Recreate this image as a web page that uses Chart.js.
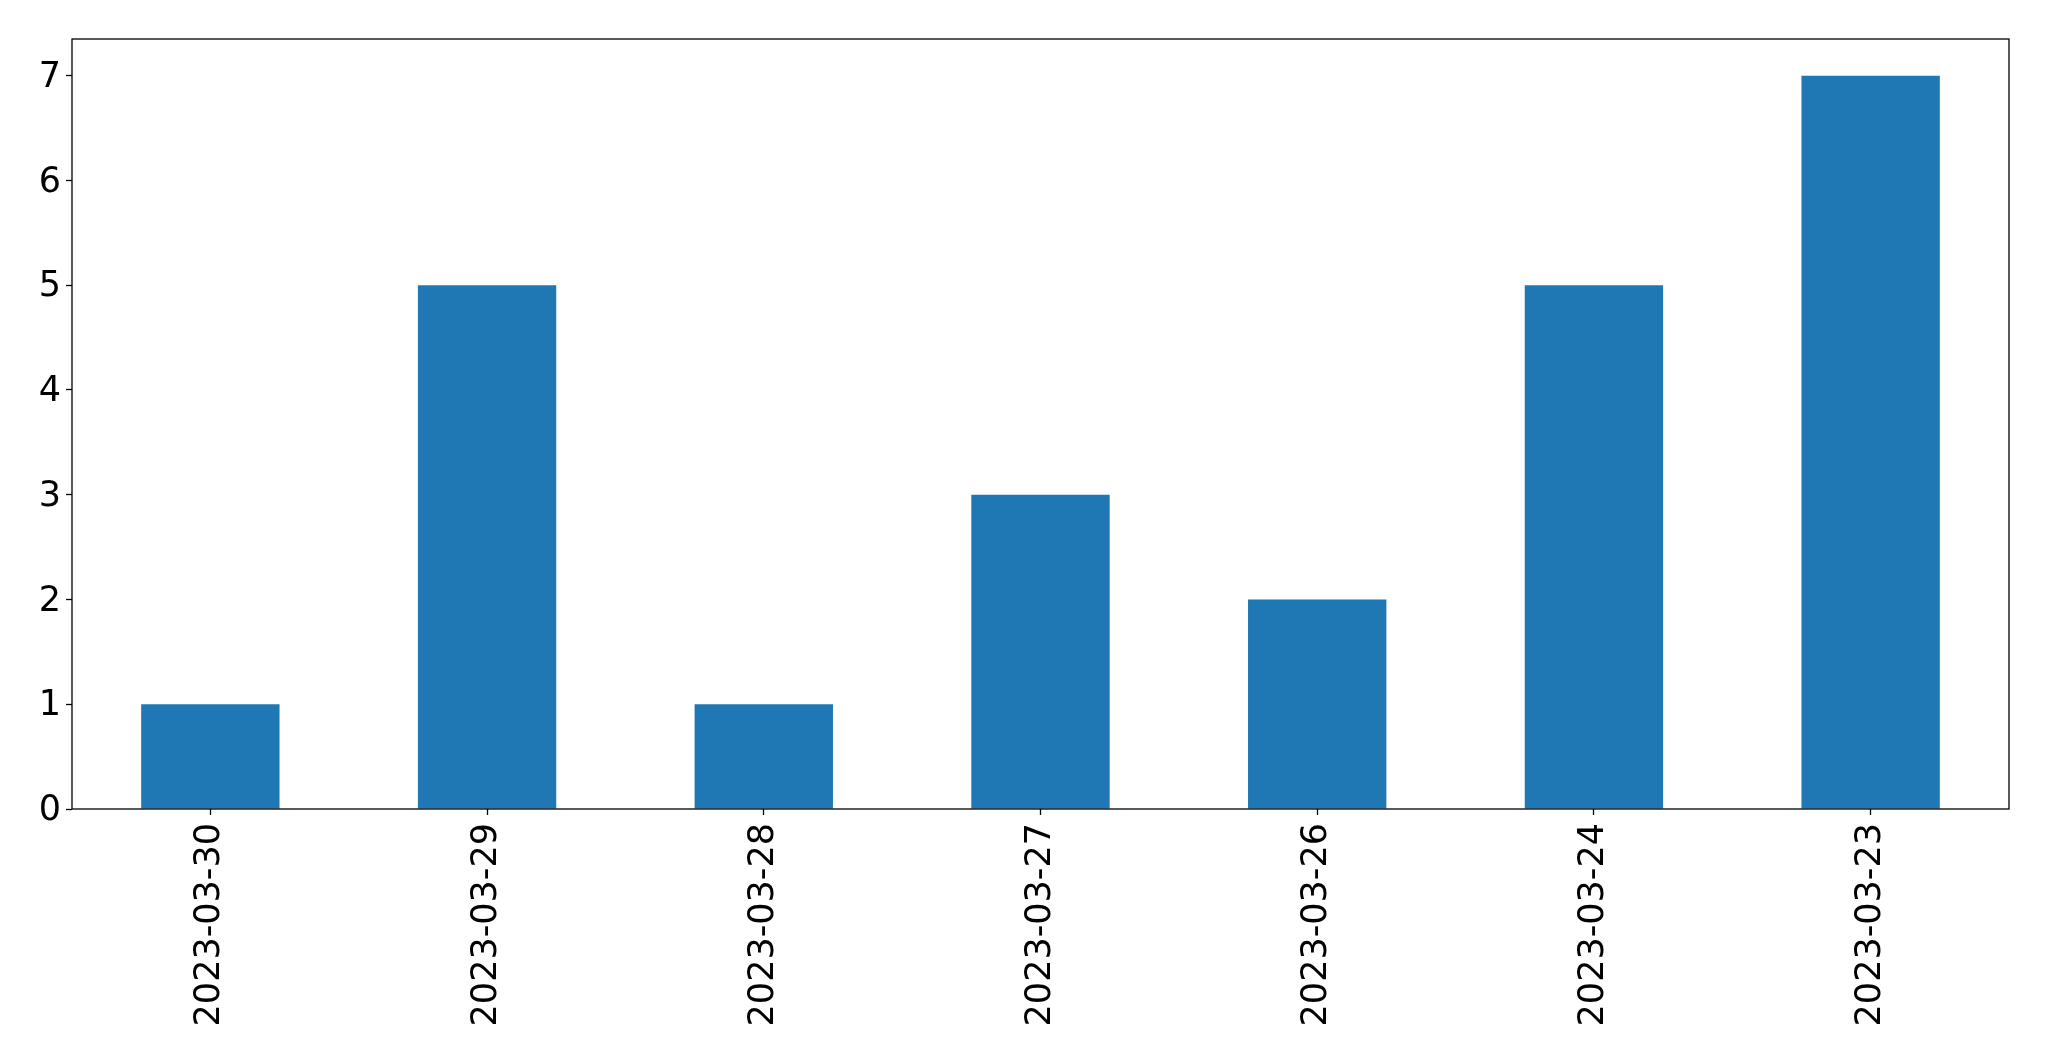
<!DOCTYPE html>
<html>
<head>
<meta charset="utf-8">
<script src="https://cdn.jsdelivr.net/npm/chart.js@4.4.0/dist/chart.umd.min.js"></script>
<style>
html,body{margin:0;padding:0;background:#fff;}
#wrap{width:2049px;height:1061px;position:relative;}
</style>
</head>
<body>
<div id="wrap"><canvas id="c" width="2049" height="1061"></canvas></div>
<script>
const categories = ["2023-03-30","2023-03-29","2023-03-28","2023-03-27","2023-03-26","2023-03-24","2023-03-23"];
const values = [1,5,1,3,2,5,7];
const yTicks = [0,1,2,3,4,5,6,7];

const frame = {
  id: 'frame',
  afterDraw(chart) {
    const a = chart.chartArea, ctx = chart.ctx;
    ctx.save();
    ctx.strokeStyle = '#000';
    ctx.lineWidth = 1.3;
    ctx.strokeRect(a.left, a.top, a.right - a.left, a.bottom - a.top);
    ctx.restore();
  }
};

new Chart(document.getElementById('c'), {
  type: 'bar',
  data: {
    labels: categories,
    datasets: [{ data: values, backgroundColor: '#1f77b4', borderWidth: 0, barPercentage: 0.5, categoryPercentage: 1.0 }]
  },
  options: {
    responsive: false,
    animation: false,
    devicePixelRatio: 1,
    layout: { padding: { top: 39, right: 40, left: 0, bottom: 0 } },
    plugins: { legend: { display: false }, tooltip: { enabled: false } },
    scales: {
      x: {
        offset: true,
        grid: { display: true, drawOnChartArea: false, drawTicks: true, tickLength: 6, tickWidth: 1.3, tickColor: '#000', offset: false },
        border: { display: false },
        ticks: { color: '#000', font: { family: 'DejaVu Sans', size: 35 }, minRotation: 90, maxRotation: 90, padding: 8, autoSkip: false },
        afterFit(s) { s.height = 252; }
      },
      y: {
        min: 0, max: 7.35,
        afterBuildTicks(s) { s.ticks = yTicks.map(v => ({ value: v })); },
        grid: { display: true, drawOnChartArea: false, drawTicks: true, tickLength: 6, tickWidth: 1.3, tickColor: '#000' },
        border: { display: false },
        ticks: { color: '#000', font: { family: 'DejaVu Sans', size: 35 }, padding: 5, labelOffset: 2 },
        afterFit(s) { s.width = 72; }
      }
    }
  },
  plugins: [frame]
});
</script>
</body>
</html>
